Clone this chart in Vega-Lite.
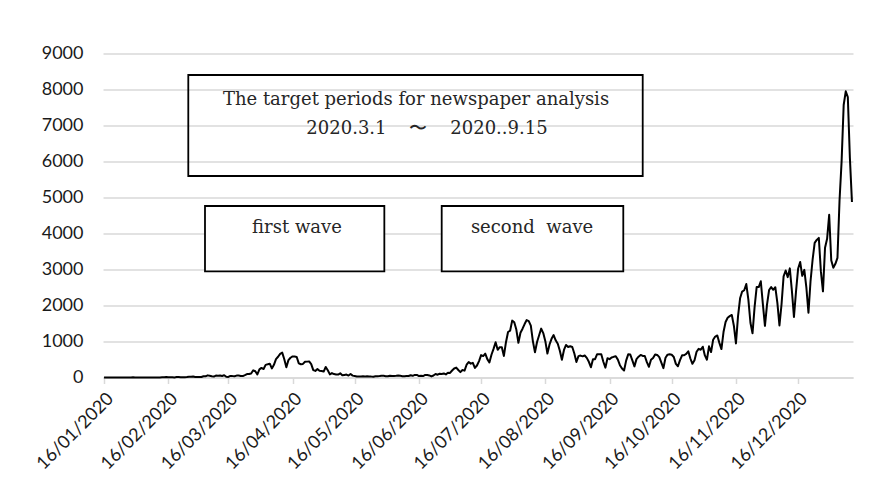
{
  "$schema": "https://vega.github.io/schema/vega-lite/v6.json",
  "width": 750,
  "height": 324,
  "autosize": {"type": "none"},
  "padding": {"left": 103, "top": 53.5, "right": 30, "bottom": 117.5},
  "background": "white",
  "config": {"view": {"stroke": null}},
  "datasets": {
    "cases": [
      {"d":"2020-01-16","v":1},{"d":"2020-01-17","v":0},{"d":"2020-01-18","v":0},{"d":"2020-01-19","v":0},{"d":"2020-01-20","v":0},{"d":"2020-01-21","v":0},{"d":"2020-01-22","v":0},{"d":"2020-01-23","v":0},{"d":"2020-01-24","v":1},{"d":"2020-01-25","v":1},{"d":"2020-01-26","v":2},{"d":"2020-01-27","v":0},{"d":"2020-01-28","v":3},{"d":"2020-01-29","v":1},{"d":"2020-01-30","v":4},{"d":"2020-01-31","v":3},
      {"d":"2020-02-01","v":3},{"d":"2020-02-02","v":0},{"d":"2020-02-03","v":0},{"d":"2020-02-04","v":3},{"d":"2020-02-05","v":0},{"d":"2020-02-06","v":0},{"d":"2020-02-07","v":0},{"d":"2020-02-08","v":0},{"d":"2020-02-09","v":0},{"d":"2020-02-10","v":0},{"d":"2020-02-11","v":1},{"d":"2020-02-12","v":0},{"d":"2020-02-13","v":4},{"d":"2020-02-14","v":8},{"d":"2020-02-15","v":11},{"d":"2020-02-16","v":5},{"d":"2020-02-17","v":6},{"d":"2020-02-18","v":6},{"d":"2020-02-19","v":3},{"d":"2020-02-20","v":11},{"d":"2020-02-21","v":12},{"d":"2020-02-22","v":8},{"d":"2020-02-23","v":10},{"d":"2020-02-24","v":5},{"d":"2020-02-25","v":11},{"d":"2020-02-26","v":21},{"d":"2020-02-27","v":22},{"d":"2020-02-28","v":25},{"d":"2020-02-29","v":13},
      {"d":"2020-03-01","v":11},{"d":"2020-03-02","v":15},{"d":"2020-03-03","v":14},{"d":"2020-03-04","v":34},{"d":"2020-03-05","v":32},{"d":"2020-03-06","v":59},{"d":"2020-03-07","v":47},{"d":"2020-03-08","v":33},{"d":"2020-03-09","v":26},{"d":"2020-03-10","v":54},{"d":"2020-03-11","v":52},{"d":"2020-03-12","v":55},{"d":"2020-03-13","v":41},{"d":"2020-03-14","v":64},{"d":"2020-03-15","v":21},{"d":"2020-03-16","v":15},{"d":"2020-03-17","v":44},{"d":"2020-03-18","v":39},{"d":"2020-03-19","v":36},{"d":"2020-03-20","v":53},{"d":"2020-03-21","v":56},{"d":"2020-03-22","v":42},{"d":"2020-03-23","v":39},{"d":"2020-03-24","v":65},{"d":"2020-03-25","v":94},{"d":"2020-03-26","v":96},{"d":"2020-03-27","v":112},{"d":"2020-03-28","v":200},{"d":"2020-03-29","v":173},{"d":"2020-03-30","v":87},{"d":"2020-03-31","v":225},
      {"d":"2020-04-01","v":266},{"d":"2020-04-02","v":235},{"d":"2020-04-03","v":351},{"d":"2020-04-04","v":366},{"d":"2020-04-05","v":383},{"d":"2020-04-06","v":252},{"d":"2020-04-07","v":351},{"d":"2020-04-08","v":511},{"d":"2020-04-09","v":576},{"d":"2020-04-10","v":658},{"d":"2020-04-11","v":690},{"d":"2020-04-12","v":507},{"d":"2020-04-13","v":283},{"d":"2020-04-14","v":482},{"d":"2020-04-15","v":549},{"d":"2020-04-16","v":584},{"d":"2020-04-17","v":581},{"d":"2020-04-18","v":568},{"d":"2020-04-19","v":394},{"d":"2020-04-20","v":368},{"d":"2020-04-21","v":378},{"d":"2020-04-22","v":437},{"d":"2020-04-23","v":441},{"d":"2020-04-24","v":446},{"d":"2020-04-25","v":373},{"d":"2020-04-26","v":206},{"d":"2020-04-27","v":182},{"d":"2020-04-28","v":233},{"d":"2020-04-29","v":189},{"d":"2020-04-30","v":181},
      {"d":"2020-05-01","v":165},{"d":"2020-05-02","v":292},{"d":"2020-05-03","v":202},{"d":"2020-05-04","v":87},{"d":"2020-05-05","v":123},{"d":"2020-05-06","v":95},{"d":"2020-05-07","v":85},{"d":"2020-05-08","v":82},{"d":"2020-05-09","v":116},{"d":"2020-05-10","v":61},{"d":"2020-05-11","v":72},{"d":"2020-05-12","v":82},{"d":"2020-05-13","v":54},{"d":"2020-05-14","v":99},{"d":"2020-05-15","v":52},{"d":"2020-05-16","v":40},{"d":"2020-05-17","v":26},{"d":"2020-05-18","v":31},{"d":"2020-05-19","v":30},{"d":"2020-05-20","v":32},{"d":"2020-05-21","v":30},{"d":"2020-05-22","v":33},{"d":"2020-05-23","v":31},{"d":"2020-05-24","v":25},{"d":"2020-05-25","v":21},{"d":"2020-05-26","v":34},{"d":"2020-05-27","v":38},{"d":"2020-05-28","v":39},{"d":"2020-05-29","v":48},{"d":"2020-05-30","v":46},{"d":"2020-05-31","v":36},
      {"d":"2020-06-01","v":37},{"d":"2020-06-02","v":51},{"d":"2020-06-03","v":40},{"d":"2020-06-04","v":45},{"d":"2020-06-05","v":48},{"d":"2020-06-06","v":55},{"d":"2020-06-07","v":48},{"d":"2020-06-08","v":37},{"d":"2020-06-09","v":38},{"d":"2020-06-10","v":41},{"d":"2020-06-11","v":42},{"d":"2020-06-12","v":63},{"d":"2020-06-13","v":47},{"d":"2020-06-14","v":71},{"d":"2020-06-15","v":72},{"d":"2020-06-16","v":40},{"d":"2020-06-17","v":48},{"d":"2020-06-18","v":41},{"d":"2020-06-19","v":70},{"d":"2020-06-20","v":69},{"d":"2020-06-21","v":57},{"d":"2020-06-22","v":31},{"d":"2020-06-23","v":55},{"d":"2020-06-24","v":96},{"d":"2020-06-25","v":78},{"d":"2020-06-26","v":105},{"d":"2020-06-27","v":100},{"d":"2020-06-28","v":113},{"d":"2020-06-29","v":86},{"d":"2020-06-30","v":130},
      {"d":"2020-07-01","v":127},{"d":"2020-07-02","v":195},{"d":"2020-07-03","v":250},{"d":"2020-07-04","v":274},{"d":"2020-07-05","v":208},{"d":"2020-07-06","v":150},{"d":"2020-07-07","v":207},{"d":"2020-07-08","v":191},{"d":"2020-07-09","v":355},{"d":"2020-07-10","v":430},{"d":"2020-07-11","v":385},{"d":"2020-07-12","v":407},{"d":"2020-07-13","v":265},{"d":"2020-07-14","v":333},{"d":"2020-07-15","v":456},{"d":"2020-07-16","v":623},{"d":"2020-07-17","v":595},{"d":"2020-07-18","v":662},{"d":"2020-07-19","v":510},{"d":"2020-07-20","v":419},{"d":"2020-07-21","v":631},{"d":"2020-07-22","v":795},{"d":"2020-07-23","v":981},{"d":"2020-07-24","v":768},{"d":"2020-07-25","v":842},{"d":"2020-07-26","v":839},{"d":"2020-07-27","v":598},{"d":"2020-07-28","v":981},{"d":"2020-07-29","v":1264},{"d":"2020-07-30","v":1300},{"d":"2020-07-31","v":1580},
      {"d":"2020-08-01","v":1536},{"d":"2020-08-02","v":1331},{"d":"2020-08-03","v":964},{"d":"2020-08-04","v":1242},{"d":"2020-08-05","v":1356},{"d":"2020-08-06","v":1485},{"d":"2020-08-07","v":1595},{"d":"2020-08-08","v":1568},{"d":"2020-08-09","v":1441},{"d":"2020-08-10","v":1005},{"d":"2020-08-11","v":700},{"d":"2020-08-12","v":985},{"d":"2020-08-13","v":1176},{"d":"2020-08-14","v":1358},{"d":"2020-08-15","v":1233},{"d":"2020-08-16","v":1010},{"d":"2020-08-17","v":666},{"d":"2020-08-18","v":911},{"d":"2020-08-19","v":1074},{"d":"2020-08-20","v":1178},{"d":"2020-08-21","v":1034},{"d":"2020-08-22","v":937},{"d":"2020-08-23","v":745},{"d":"2020-08-24","v":494},{"d":"2020-08-25","v":765},{"d":"2020-08-26","v":905},{"d":"2020-08-27","v":849},{"d":"2020-08-28","v":869},{"d":"2020-08-29","v":848},{"d":"2020-08-30","v":667},{"d":"2020-08-31","v":430},
      {"d":"2020-09-01","v":593},{"d":"2020-09-02","v":609},{"d":"2020-09-03","v":588},{"d":"2020-09-04","v":612},{"d":"2020-09-05","v":546},{"d":"2020-09-06","v":436},{"d":"2020-09-07","v":286},{"d":"2020-09-08","v":509},{"d":"2020-09-09","v":510},{"d":"2020-09-10","v":647},{"d":"2020-09-11","v":645},{"d":"2020-09-12","v":645},{"d":"2020-09-13","v":438},{"d":"2020-09-14","v":275},{"d":"2020-09-15","v":534},{"d":"2020-09-16","v":510},{"d":"2020-09-17","v":557},{"d":"2020-09-18","v":574},{"d":"2020-09-19","v":588},{"d":"2020-09-20","v":497},{"d":"2020-09-21","v":343},{"d":"2020-09-22","v":250},{"d":"2020-09-23","v":193},{"d":"2020-09-24","v":470},{"d":"2020-09-25","v":643},{"d":"2020-09-26","v":636},{"d":"2020-09-27","v":474},{"d":"2020-09-28","v":309},{"d":"2020-09-29","v":511},{"d":"2020-09-30","v":578},
      {"d":"2020-10-01","v":627},{"d":"2020-10-02","v":598},{"d":"2020-10-03","v":597},{"d":"2020-10-04","v":427},{"d":"2020-10-05","v":298},{"d":"2020-10-06","v":492},{"d":"2020-10-07","v":541},{"d":"2020-10-08","v":641},{"d":"2020-10-09","v":627},{"d":"2020-10-10","v":567},{"d":"2020-10-11","v":416},{"d":"2020-10-12","v":261},{"d":"2020-10-13","v":550},{"d":"2020-10-14","v":634},{"d":"2020-10-15","v":646},{"d":"2020-10-16","v":632},{"d":"2020-10-17","v":570},{"d":"2020-10-18","v":378},{"d":"2020-10-19","v":313},{"d":"2020-10-20","v":482},{"d":"2020-10-21","v":615},{"d":"2020-10-22","v":618},{"d":"2020-10-23","v":654},{"d":"2020-10-24","v":727},{"d":"2020-10-25","v":528},{"d":"2020-10-26","v":381},{"d":"2020-10-27","v":478},{"d":"2020-10-28","v":716},{"d":"2020-10-29","v":796},{"d":"2020-10-30","v":770},{"d":"2020-10-31","v":856},
      {"d":"2020-11-01","v":614},{"d":"2020-11-02","v":494},{"d":"2020-11-03","v":867},{"d":"2020-11-04","v":706},{"d":"2020-11-05","v":1050},{"d":"2020-11-06","v":1138},{"d":"2020-11-07","v":1166},{"d":"2020-11-08","v":962},{"d":"2020-11-09","v":790},{"d":"2020-11-10","v":1262},{"d":"2020-11-11","v":1541},{"d":"2020-11-12","v":1660},{"d":"2020-11-13","v":1705},{"d":"2020-11-14","v":1738},{"d":"2020-11-15","v":1438},{"d":"2020-11-16","v":948},{"d":"2020-11-17","v":1699},{"d":"2020-11-18","v":2201},{"d":"2020-11-19","v":2388},{"d":"2020-11-20","v":2424},{"d":"2020-11-21","v":2596},{"d":"2020-11-22","v":2164},{"d":"2020-11-23","v":1520},{"d":"2020-11-24","v":1227},{"d":"2020-11-25","v":1954},{"d":"2020-11-26","v":2511},{"d":"2020-11-27","v":2511},{"d":"2020-11-28","v":2674},{"d":"2020-11-29","v":2036},{"d":"2020-11-30","v":1436},
      {"d":"2020-12-01","v":2026},{"d":"2020-12-02","v":2430},{"d":"2020-12-03","v":2511},{"d":"2020-12-04","v":2436},{"d":"2020-12-05","v":2508},{"d":"2020-12-06","v":2071},{"d":"2020-12-07","v":1447},{"d":"2020-12-08","v":2028},{"d":"2020-12-09","v":2810},{"d":"2020-12-10","v":2972},{"d":"2020-12-11","v":2788},{"d":"2020-12-12","v":3031},{"d":"2020-12-13","v":2414},{"d":"2020-12-14","v":1682},{"d":"2020-12-15","v":2394},{"d":"2020-12-16","v":3019},{"d":"2020-12-17","v":3209},{"d":"2020-12-18","v":2824},{"d":"2020-12-19","v":2990},{"d":"2020-12-20","v":2494},{"d":"2020-12-21","v":1799},{"d":"2020-12-22","v":2674},{"d":"2020-12-23","v":3271},{"d":"2020-12-24","v":3740},{"d":"2020-12-25","v":3823},{"d":"2020-12-26","v":3879},{"d":"2020-12-27","v":2947},{"d":"2020-12-28","v":2393},{"d":"2020-12-29","v":3604},{"d":"2020-12-30","v":3852},{"d":"2020-12-31","v":4520},
      {"d":"2021-01-01","v":3258},{"d":"2021-01-02","v":3050},{"d":"2021-01-03","v":3158},{"d":"2021-01-04","v":3325},{"d":"2021-01-05","v":4915},{"d":"2021-01-06","v":6004},{"d":"2021-01-07","v":7570},{"d":"2021-01-08","v":7950},{"d":"2021-01-09","v":7790},{"d":"2021-01-10","v":6094},{"d":"2021-01-11","v":4876}
    ],
    "boxes": [
      {"kind":"period","d":"2020-02-25T16:00:00Z","d2":"2020-10-02T00:00:00Z","v":8403,"v2":5597},
      {"kind":"wave","d":"2020-03-04T17:30:00Z","d2":"2020-05-30T07:00:00Z","v":4764,"v2":2950},
      {"kind":"wave","d":"2020-06-26T23:30:00Z","d2":"2020-09-22T15:00:00Z","v":4764,"v2":2950}
    ],
    "notes": [
      {"d":"2020-06-14T14:00:00Z","v":7722,"text":"The target periods for newspaper analysis"},
      {"d":"2020-06-19T21:00:00Z","v":6903,"text":"2020.3.1\u00a0\u00a0\u00a0\u00a0〜\u00a0\u00a0\u00a0\u00a02020..9.15"},
      {"d":"2020-04-18T03:00:00Z","v":4153,"text":"first wave"},
      {"d":"2020-08-09T14:00:00Z","v":4153,"text":"second\u00a0\u00a0wave"}
    ]
  },
  "encoding": {
    "x": {"field": "d", "type": "temporal",
      "scale": {"type": "utc", "domain": [{"year": 2020, "month": 1, "date": 15, "hours": 12, "utc": true}, {"year": 2021, "month": 1, "date": 11, "hours": 12, "utc": true}]},
      "axis": {
        "values": [
          {"year": 2020, "month": 1, "date": 16, "utc": true},
          {"year": 2020, "month": 2, "date": 16, "utc": true},
          {"year": 2020, "month": 3, "date": 16, "utc": true},
          {"year": 2020, "month": 4, "date": 16, "utc": true},
          {"year": 2020, "month": 5, "date": 16, "utc": true},
          {"year": 2020, "month": 6, "date": 16, "utc": true},
          {"year": 2020, "month": 7, "date": 16, "utc": true},
          {"year": 2020, "month": 8, "date": 16, "utc": true},
          {"year": 2020, "month": 9, "date": 16, "utc": true},
          {"year": 2020, "month": 10, "date": 16, "utc": true},
          {"year": 2020, "month": 11, "date": 16, "utc": true},
          {"year": 2020, "month": 12, "date": 16, "utc": true}
        ],
        "format": "%d/%m/%Y",
        "title": null,
        "grid": false,
        "labelAngle": -45,
        "labelOverlap": false,
        "labelFlush": false,
        "labelFont": "Lato",
        "labelFontSize": 18,
        "labelColor": "#1a1a1a",
        "labelPadding": 6,
        "domainColor": "#d9d9d9",
        "domainWidth": 1.5,
        "tickColor": "#d9d9d9",
        "tickWidth": 1.5,
        "tickSize": 6
      }
    },
    "y": {"field": "v", "type": "quantitative",
      "scale": {"domain": [0, 9000], "nice": false},
      "axis": {
        "values": [0, 1000, 2000, 3000, 4000, 5000, 6000, 7000, 8000, 9000],
        "format": "d",
        "title": null,
        "domain": false,
        "ticks": false,
        "labelFont": "Lato",
        "labelFontSize": 18,
        "labelColor": "#1a1a1a",
        "labelPadding": 20,
        "gridColor": "#d9d9d9",
        "gridWidth": 1.5
      }
    }
  },
  "layer": [
    {
      "data": {"name": "boxes"},
      "transform": [{"filter": "datum.kind === 'wave'"}],
      "mark": {"type": "rect", "fill": "white", "stroke": "black", "strokeWidth": 1.8},
      "encoding": {
        "x2": {"field": "d2"},
        "y2": {"field": "v2"}
      }
    },
    {
      "data": {"name": "boxes"},
      "transform": [{"filter": "datum.kind === 'period'"}],
      "mark": {"type": "rect", "fill": "white", "fillOpacity": 0, "stroke": "black", "strokeWidth": 1.8},
      "encoding": {
        "x2": {"field": "d2"},
        "y2": {"field": "v2"}
      }
    },
    {
      "data": {"name": "notes"},
      "mark": {"type": "text", "font": "DejaVu Serif", "fontSize": 18, "color": "#262626", "align": "center", "baseline": "middle"},
      "encoding": {
        "text": {"field": "text"}
      }
    },
    {
      "data": {"name": "cases"},
      "mark": {"type": "line", "color": "black", "strokeWidth": 2, "strokeJoin": "round"},
      "encoding": {}
    }
  ]
}
